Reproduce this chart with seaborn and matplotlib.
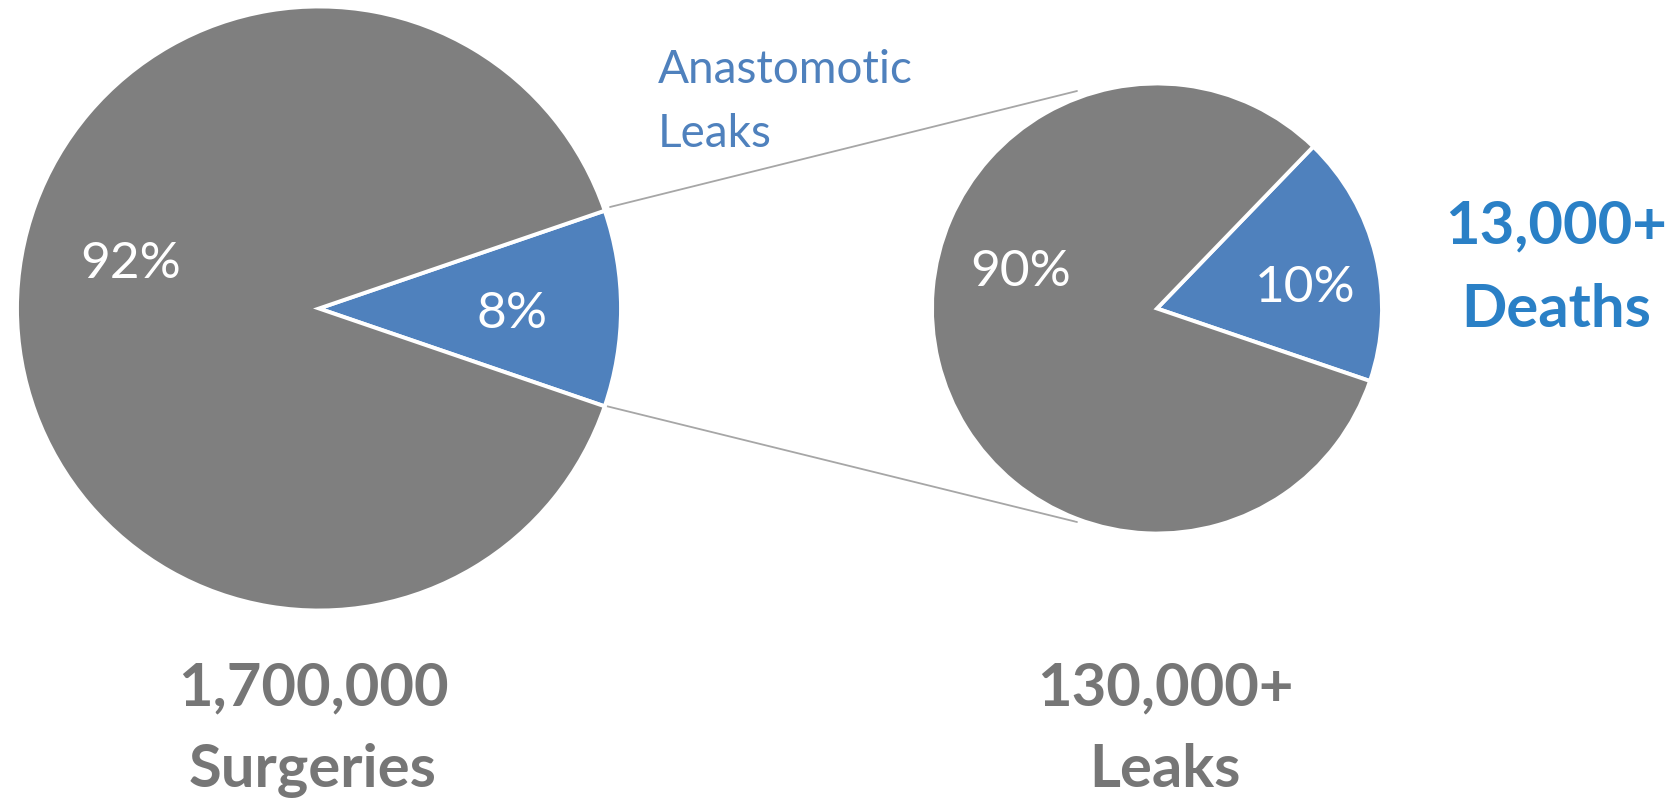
import matplotlib
matplotlib.use("Agg")
import matplotlib.pyplot as plt
import seaborn as sns

# slice shares as drawn in the picture (blue = leaks / deaths, gray = rest)
surgery_shares = [10.5, 89.5]
leak_shares = [18.0, 82.0]
surgery_labels = ["8%", "92%"]
leak_labels = ["10%", "90%"]
callout_label = ["Anastomotic", "Leaks"]
surgery_total = ["1,700,000", "Surgeries"]
leak_total = ["130,000+", "Leaks"]
death_total = ["13,000+", "Deaths"]

BLUE = "#4F81BD"
GRAY = "#7F7F7F"
TEXT_GRAY = "#767676"
DEATH_BLUE = "#2A80C6"

sns.set_theme(style="white")
plt.rcParams["font.family"] = ["Lato", "DejaVu Sans"]

W, H = 1676, 803
fig = plt.figure(figsize=(W / 100, H / 100), dpi=100)
ax = fig.add_axes([0, 0, 1, 1])


def Y(y):
    # picture rows run downwards, axes y runs upwards
    return H - y


# connector lines between the two pies
ax.plot([610, 1077], [Y(208), Y(92)], color="#A6A6A6", lw=1.3, zorder=1)
ax.plot([606, 1077], [Y(407), Y(523)], color="#A6A6A6", lw=1.3, zorder=1)

wedge_style = dict(edgecolor="white", linewidth=2.8)

# first pie: all surgeries, leaks wedge centred on the right
half = surgery_shares[0] / 100 * 360 / 2
ax.pie(surgery_shares, colors=[BLUE, GRAY], startangle=-half,
       center=(319, Y(309.5)), radius=302, wedgeprops=wedge_style)

# second pie: leaks, deaths wedge
ax.pie(leak_shares, colors=[BLUE, GRAY], startangle=-18.8,
       center=(1157, Y(309.5)), radius=225, wedgeprops=wedge_style)

ax.set_xlim(0, W)
ax.set_ylim(0, H)
ax.set_aspect("equal")
ax.axis("off")

# percentage labels
pct_kw = dict(color="white", fontsize=37, ha="center", va="baseline", zorder=5)
ax.text(512, Y(328), surgery_labels[0], **pct_kw)
ax.text(131, Y(278), surgery_labels[1], **pct_kw)
ax.text(1305, Y(302), leak_labels[0], **pct_kw)
ax.text(1021, Y(286), leak_labels[1], **pct_kw)

# callout
ax.text(658, Y(83), callout_label[0], color=BLUE, fontsize=33, ha="left", va="baseline")
ax.text(658, Y(147), callout_label[1], color=BLUE, fontsize=33, ha="left", va="baseline")

# totals
big_kw = dict(fontsize=43, fontweight="bold", ha="center", va="baseline")
ax.text(313, Y(705), surgery_total[0], color=TEXT_GRAY, **big_kw)
ax.text(313, Y(787), surgery_total[1], color=TEXT_GRAY, **big_kw)
ax.text(1165, Y(705), leak_total[0], color=TEXT_GRAY, **big_kw)
ax.text(1165, Y(787), leak_total[1], color=TEXT_GRAY, **big_kw)
ax.text(1556, Y(243), death_total[0], color=DEATH_BLUE, **big_kw)
ax.text(1556, Y(327), death_total[1], color=DEATH_BLUE, **big_kw)

fig.savefig("out.png", dpi=100, facecolor="white")
